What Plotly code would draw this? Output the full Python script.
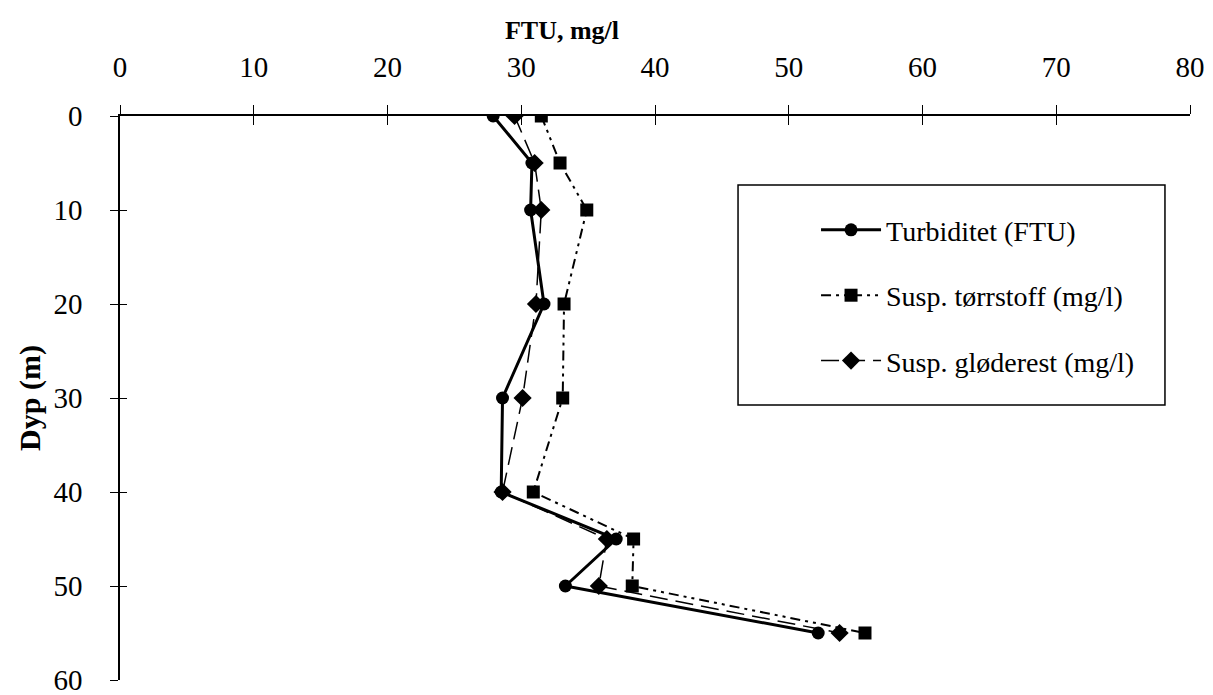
import plotly.graph_objects as go

depth = [0, 5, 10, 20, 30, 40, 45, 50, 55]
turbiditet = [27.9, 30.8, 30.7, 31.7, 28.6, 28.5, 37.1, 33.3, 52.2]
torrstoff = [31.5, 32.9, 34.9, 33.2, 33.1, 30.9, 38.4, 38.3, 55.7]
glodrest = [29.5, 31.0, 31.5, 31.1, 30.1, 28.6, 36.4, 35.8, 53.8]

x_ticks = [0, 10, 20, 30, 40, 50, 60, 70, 80]
y_ticks = [0, 10, 20, 30, 40, 50, 60]

FONT = "Liberation Serif, Times New Roman, serif"
W, H = 1205, 687

fig = go.Figure()
fig.add_trace(go.Scatter(x=turbiditet, y=depth, name="Turbiditet (FTU)", mode="lines+markers",
                         legendgroup="a",
                         line=dict(color="black", width=3),
                         marker=dict(symbol="circle", size=13, color="black")))
fig.add_trace(go.Scatter(x=torrstoff, y=depth, name="Susp. tørrstoff (mg/l)", mode="lines+markers",
                         legendgroup="b",
                         line=dict(color="black", width=2, dash="10px,5px,3px,5px,3px,5px"),
                         marker=dict(symbol="square", size=13, color="black")))
fig.add_trace(go.Scatter(x=glodrest, y=depth, name="Susp. gløderest (mg/l)", mode="lines+markers",
                         legendgroup="c",
                         line=dict(color="black", width=1.5, dash="18px,8px"),
                         marker=dict(symbol="diamond", size=14, color="black")))
# invisible trace for crossing ticks on second axes
fig.add_trace(go.Scatter(x=[0, 80], y=[0, 60], xaxis="x2", yaxis="y2", mode="markers",
                         marker=dict(opacity=0), showlegend=False, hoverinfo="skip"))

fig.update_layout(
    width=W, height=H,
    margin=dict(l=112, r=23, t=108, b=15),
    paper_bgcolor="white", plot_bgcolor="white",
    font=dict(family=FONT, color="black", size=28),
    title=dict(text="<b>FTU, mg/l</b>", x=(554 / W), xanchor="center", y=(H - 22) / H,
               yanchor="middle", font=dict(size=26, family=FONT)),
    xaxis=dict(range=[0, 80], side="top", tickvals=x_ticks, ticks="outside", ticklen=9,
               tickcolor="black", tickwidth=1, showline=True, linecolor="black", linewidth=1.5,
               showgrid=False, zeroline=False, tickfont=dict(size=29), ticklabelstandoff=17,
               automargin=False, ticklabeloverflow="allow"),
    yaxis=dict(range=[60, 0], tickvals=y_ticks, ticks="outside", ticklen=8, tickcolor="black",
               tickwidth=1, showline=True, linecolor="black", linewidth=1.5, showgrid=False,
               zeroline=False, tickfont=dict(size=29), ticklabelstandoff=22, automargin=False,
               ticklabeloverflow="allow",
               title=dict(text="<b>Dyp (m)</b>", font=dict(size=30), standoff=4)),
    xaxis2=dict(range=[0, 80], overlaying="x", side="top", tickvals=x_ticks, ticks="inside",
                ticklen=9, tickcolor="black", showticklabels=False, showgrid=False, zeroline=False,
                showline=False, automargin=False),
    yaxis2=dict(range=[60, 0], overlaying="y", side="left", tickvals=y_ticks, ticks="inside",
                ticklen=7, tickcolor="black", showticklabels=False, showgrid=False, zeroline=False,
                showline=False, automargin=False),
    legend=dict(x=0.6505, y=0.842, xanchor="left", yanchor="top", borderwidth=0,
                bgcolor="rgba(0,0,0,0)", font=dict(size=28, family=FONT),
                tracegroupgap=26, itemwidth=60),
    shapes=[dict(type="rect", xref="paper", yref="paper", x0=0.5776, x1=0.9766,
                 y0=0.4876, y1=0.8777, line=dict(color="black", width=1.5),
                 fillcolor="rgba(0,0,0,0)", layer="above")],
)

fig.write_html("out.html")
